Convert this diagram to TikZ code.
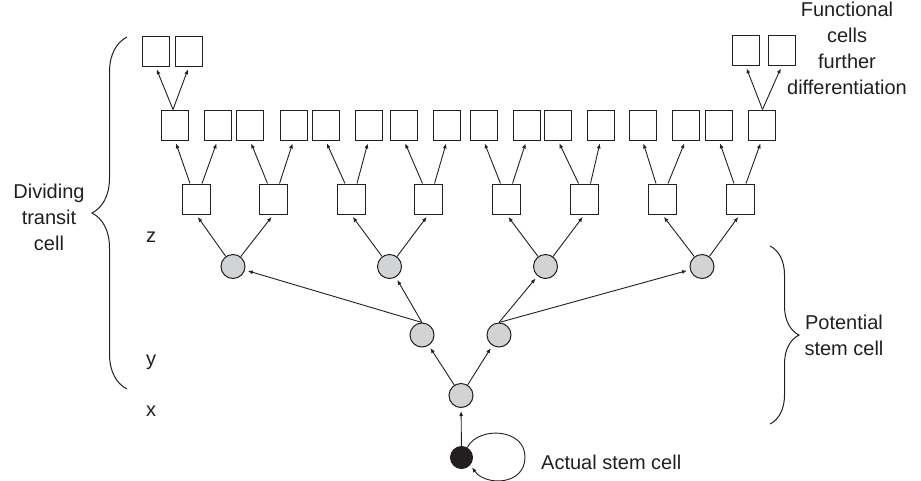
\documentclass[tikz,border=0pt]{standalone}
\usepackage{fontspec}
\setmainfont{Liberation Sans}
\usetikzlibrary{arrows.meta,decorations.pathreplacing}
\definecolor{ink}{HTML}{231F20}
\definecolor{cellgray}{HTML}{D1D3D4}
\begin{document}
\begin{tikzpicture}[x=1pt,y=-1pt,
  box/.style={draw=ink,line width=1pt,minimum width=27pt,minimum height=30pt,inner sep=0pt},
  cell/.style={circle,draw=ink,line width=1pt,fill=cellgray,minimum size=24pt,inner sep=0pt},
  stemcell/.style={circle,draw=ink,fill=ink,line width=1pt,minimum size=22pt,inner sep=0pt},
  arr/.style={draw=ink,line width=0.9pt,-{Latex[length=5pt,width=4pt]},shorten >=3pt},
  lbl/.style={text=ink,font=\fontsize{20}{26}\selectfont,align=center,inner sep=0pt},
  brc/.style={draw=ink,line width=1pt,decorate}
]
\useasboundingbox (0,0) rectangle (921,480);

% top functional cells
\node[box] (t1) at (155.5,51) {};
\node[box] (t2) at (189,51) {};
\node[box] (t3) at (745.5,50) {};
\node[box] (t4) at (782,50) {};

% second row
\foreach \x [count=\i] in {175,217.5,250,293.5,325.5,368.5,404,447,483.5,526.5,558,600.5,642.5,685.5,719,761.5}
  \node[box] (r\i) at (\x,125) {};

% mid row
\foreach \x [count=\i] in {196,273.5,351,428.5,506.5,584.5,662,740}
  \node[box,minimum width=28pt] (m\i) at (\x,199) {};

% circles
\foreach \x [count=\i] in {233,389.5,545.5,702}
  \node[cell] (c\i) at (\x,266.5) {};
\node[cell] (p1) at (422,335) {};
\node[cell] (p2) at (499,335) {};
\node[cell] (s) at (461,395.5) {};
\node[stemcell] (bk) at (461.5,457.5) {};

% arrows
\draw[arr] (bk) -- (s);
\draw[arr] (s) -- (p1);
\draw[arr] (s) -- (p2);
\draw[arr] (p1.north) -- (c1);
\draw[arr] (p1.north) -- (c2);
\draw[arr] (p2.north) -- (c3);
\draw[arr] (p2.north) -- (c4);
\foreach \k in {1,...,4} {
  \pgfmathtruncatemacro\ka{2*\k-1}
  \pgfmathtruncatemacro\kb{2*\k}
  \draw[arr] (c\k) -- (m\ka.south);
  \draw[arr] (c\k) -- (m\kb.south);
}
\foreach \j in {1,...,8} {
  \pgfmathtruncatemacro\ja{2*\j-1}
  \pgfmathtruncatemacro\jb{2*\j}
  \draw[arr] ([xshift=-6pt]m\j.north) -- (r\ja.south);
  \draw[arr] ([xshift=6pt]m\j.north) -- (r\jb.south);
}
\draw[arr] ([xshift=-2pt]r1.north) -- (t1.south);
\draw[arr] ([xshift=-2pt]r1.north) -- (t2.south);
\draw[arr] ([xshift=1pt]r16.north) -- (t3.south);
\draw[arr] ([xshift=1pt]r16.north) -- (t4.south);

% self-renewal loop
\draw[arr] (bk.60) .. controls (478,426) and (525,428) .. (525,457)
  .. controls (525,486) and (485,486) .. (bk.-40);

% braces
\coordinate (lb1) at (127,389);
\coordinate (lb2) at (127,37);
\draw[brc,decoration={brace,amplitude=35pt,aspect=0.5}] (lb1) -- (lb2);
\coordinate (rb1) at (770,246);
\coordinate (rb2) at (770,424);
\draw[brc,decoration={brace,amplitude=29pt,aspect=0.5}] (rb1) -- (rb2);

% labels
\node[lbl] (ldiv) at (49,217) {Dividing\\transit\\cell};
\node[lbl,anchor=base] (lz) at (151,242) {z};
\node[lbl,anchor=base] (ly) at (151,365) {y};
\node[lbl,anchor=base] (lx) at (151,416) {x};
\node[lbl] (lpot) at (844,335) {Potential\\stem cell};
\node[lbl,anchor=west] (lact) at (541,462) {Actual stem cell};
\node[lbl,anchor=north] (lfun) at (847,2) {Functional\\cells\\further\\differentiation};
\end{tikzpicture}
\end{document}
